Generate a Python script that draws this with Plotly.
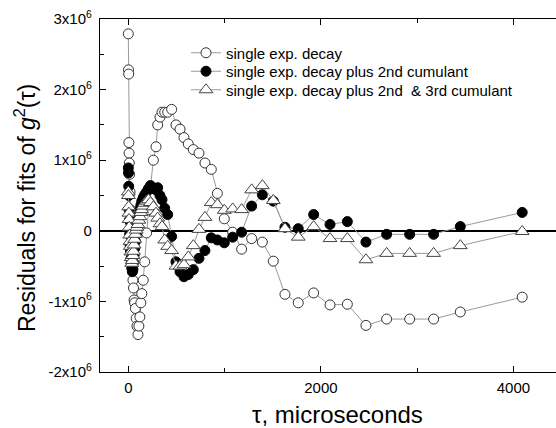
import plotly.graph_objects as go

# lag time tau (microseconds)
tau = [0, 2, 4, 6, 8, 10, 14, 18, 22, 26, 30, 36, 42, 48, 54, 60, 66, 74, 82, 90,
       100, 110, 120, 130, 140, 155, 170, 190, 210, 230,
       260, 288, 305, 329, 350, 378, 409, 450, 495, 537, 578, 623, 675, 734, 796,
       862, 925, 997, 1084, 1177, 1281, 1392, 1506, 1627, 1765, 1925, 2095, 2275,
       2468, 2683, 2922, 3171, 3448, 4091]

# residuals in units of 1e6
single_exp = [2.79, 2.28, 2.22, 1.25, 1.10, 0.96, 0.80, 0.55, 0.30, 0.10, -0.10, -0.30,
              -0.50, -0.70, -0.81, -0.98, -1.02, -1.10, -1.24, -1.35, -1.47, -1.35, -1.22,
              -1.02, -0.89, -0.70, -0.44, -0.03, 0.30, 0.62,
              1.00, 1.19, 1.50, 1.61, 1.68, 1.68, 1.68, 1.72, 1.50, 1.44, 1.32, 1.23, 1.15,
              1.10, 0.96, 0.87, 0.53, 0.17, -0.02, -0.26, -0.11, -0.16, -0.43, -0.90, -1.02,
              -0.88, -1.05, -1.04, -1.34, -1.25, -1.25, -1.25, -1.15, -0.94]

plus_2nd = [0.89, 0.82, 0.63, 0.50, 0.30, 0.15, -0.05, -0.20, -0.30, -0.40, -0.46, -0.53,
            -0.58, -0.55, -0.45, -0.35, -0.25, -0.15, -0.05, 0.05, 0.15, 0.22, 0.30, 0.36,
            0.42, 0.47, 0.51, 0.55, 0.60, 0.64,
            0.60, 0.58, 0.61, 0.50, 0.44, 0.32, 0.23, -0.08, -0.44, -0.58, -0.65, -0.62,
            -0.55, -0.39, -0.28, -0.10, -0.13, -0.17, -0.09, -0.02, 0.35, 0.51, 0.42, 0.05,
            0.03, 0.23, 0.09, 0.13, -0.16, -0.05, -0.05, -0.05, 0.06, 0.26]

plus_2nd_3rd = [0.55, 0.50, 0.34, 0.25, 0.16, 0.05, -0.06, -0.15, -0.22, -0.30, -0.38, -0.46,
                -0.42, -0.35, -0.29, -0.20, -0.12, -0.05, 0.01, 0.05, 0.09, 0.15, 0.20, 0.26,
                0.30, 0.35, 0.39, 0.42, 0.44, 0.40,
                0.34, 0.25, 0.18, 0.10, 0.06, -0.13, -0.22, -0.28, -0.50, -0.50, -0.48, -0.37,
                -0.21, 0.02, 0.19, 0.40, 0.37, 0.29, 0.31, 0.30, 0.58, 0.64, 0.43, 0.03,
                -0.09, 0.06, -0.11, -0.11, -0.41, -0.32, -0.32, -0.32, -0.21, -0.01]

series_names = ["single exp. decay",
                "single exp. decay plus 2nd cumulant",
                "single exp. decay plus 2nd\u00a0 & 3rd cumulant"]

y_tick_vals = [-2e6, -1e6, 0, 1e6, 2e6, 3e6]
y_tick_text = ["-2x10<sup>6</sup>", "-1x10<sup>6</sup>", "0",
               "1x10<sup>6</sup>", "2x10<sup>6</sup>", "3x10<sup>6</sup>"]
y_minor_vals = [-1.5e6, -0.5e6, 0.5e6, 1.5e6, 2.5e6]
x_tick_vals = [0, 2000, 4000]
x_minor_vals = [1000, 3000]

SCALE = 1e6
FONT = "Liberation Sans, Arial, sans-serif"
LINE_GRAY = "#9a9a9a"

fig = go.Figure()
styles = [
    dict(symbol="circle", color="white", size=10, line=dict(color="#333333", width=1)),
    dict(symbol="circle", color="black", size=10, line=dict(color="black", width=1)),
    dict(symbol="triangle-up", color="white", size=12, line=dict(color="#444444", width=1)),
]
legends = ["legend", "legend2", "legend3"]
for name, vals, st, lg in zip(series_names, [single_exp, plus_2nd, plus_2nd_3rd], styles, legends):
    fig.add_trace(go.Scatter(
        x=tau, y=[v * SCALE for v in vals], name=name, mode="lines+markers",
        line=dict(color=LINE_GRAY, width=1), marker=st, legend=lg))

W, H = 556, 428
ml, mr, mt, mb = 100, 0, 19, 56
pw, ph = W - ml - mr, H - mt - mb

def px_to_paper_x(px):
    return (px - ml) / pw

def px_to_paper_y(py):
    return (H - mb - py) / ph

leg_common = dict(font=dict(family=FONT, size=15, color="black"), bgcolor="rgba(0,0,0,0)",
                  borderwidth=0, xanchor="left", yanchor="middle", x=px_to_paper_x(186))

fig.update_layout(
    width=W, height=H, margin=dict(l=ml, r=mr, t=mt, b=mb),
    paper_bgcolor="white", plot_bgcolor="white",
    font=dict(family=FONT, size=15, color="black"),
    showlegend=True,
    legend=dict(**leg_common, y=px_to_paper_y(53)),
    legend2=dict(**leg_common, y=px_to_paper_y(71.5)),
    legend3=dict(**leg_common, y=px_to_paper_y(90)),
    xaxis=dict(range=[-294, 4442], showgrid=False, zeroline=False, showline=True,
               linecolor="black", linewidth=1.2, mirror="ticks", ticks="inside",
               ticklen=6, tickcolor="black", tickwidth=1.2,
               tickmode="array", tickvals=x_tick_vals, ticktext=[str(v) for v in x_tick_vals],
               minor=dict(tickmode="array", tickvals=x_minor_vals, ticks="inside", ticklen=4,
                          tickcolor="black", tickwidth=1.2),
               ticklabelstandoff=2,
               tickfont=dict(size=15)),
    yaxis=dict(range=[-2e6, 3e6], showgrid=False, zeroline=True, zerolinecolor="black",
               zerolinewidth=1.5, showline=True, linecolor="black", linewidth=1.2,
               ticks="inside", ticklen=6, tickcolor="black", tickwidth=1.2,
               tickmode="array", tickvals=y_tick_vals, ticktext=y_tick_text,
               minor=dict(tickmode="array", tickvals=y_minor_vals, ticks="inside", ticklen=4,
                          tickcolor="black", tickwidth=1.2),
               ticklabelstandoff=4,
               tickfont=dict(size=15)),
    annotations=[
        dict(text="Residuals for fits of <i>g</i><sup>2</sup>(\u03c4)", textangle=-90,
             xref="paper", yref="paper", x=px_to_paper_x(25), y=px_to_paper_y(208),
             xanchor="center", yanchor="middle", showarrow=False,
             font=dict(family=FONT, size=23, color="black")),
        dict(text="\u03c4, microseconds", xref="paper", yref="paper",
             x=px_to_paper_x(337.5), y=px_to_paper_y(414),
             xanchor="center", yanchor="middle", showarrow=False,
             font=dict(family=FONT, size=24, color="black")),
    ],
)

fig.write_html("out.html")
